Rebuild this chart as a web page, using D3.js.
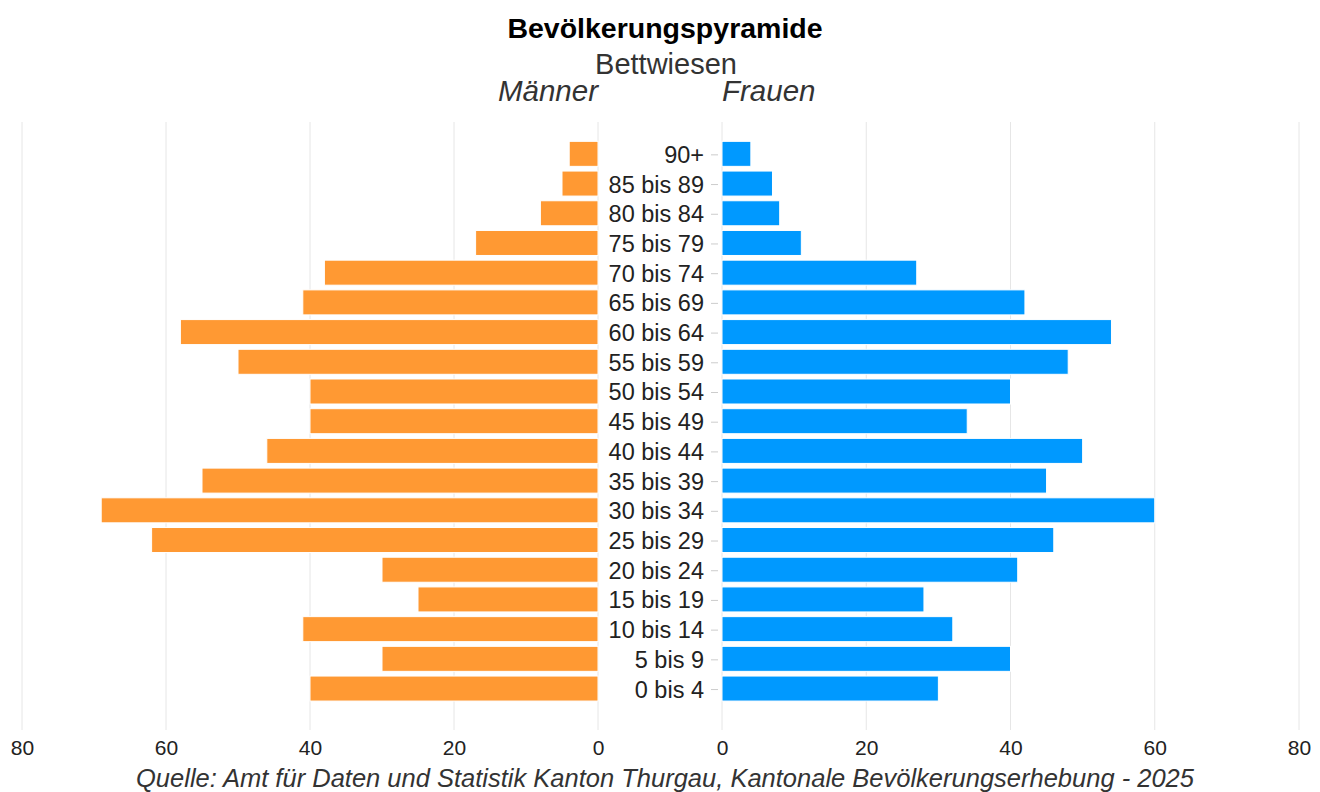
<!DOCTYPE html>
<html><head><meta charset="utf-8">
<script src="https://cdn.jsdelivr.net/npm/d3@7"></script>
<style>
html,body{margin:0;padding:0;background:#fff;}
svg{display:block;font-family:"Liberation Sans",Arial,sans-serif;}
</style></head>
<body>
<svg id="c" width="1320" height="792"></svg>
<script>
const categories = ["90+","85 bis 89","80 bis 84","75 bis 79","70 bis 74","65 bis 69","60 bis 64","55 bis 59","50 bis 54","45 bis 49","40 bis 44","35 bis 39","30 bis 34","25 bis 29","20 bis 24","15 bis 19","10 bis 14","5 bis 9","0 bis 4"];
const maenner = [4,5,8,17,38,41,58,50,40,40,46,55,69,62,30,25,41,30,40];
const frauen  = [4,7,8,11,27,42,54,48,40,34,50,45,60,46,41,28,32,40,30];
const tickValues = [0,20,40,60,80];
const title = "Bevölkerungspyramide";
const subtitle = "Bettwiesen";
const labelMaenner = "Männer";
const labelFrauen = "Frauen";
const source = "Quelle: Amt für Daten und Statistik Kanton Thurgau, Kantonale Bevölkerungserhebung - 2025";

const svg = d3.select("#c");
const xL = d3.scaleLinear().domain([0,80]).range([598,22]);
const xR = d3.scaleLinear().domain([0,80]).range([722,1299]);
const y = d3.scaleBand().domain(categories).range([139,703.4]).paddingInner(0.158).paddingOuter(0.079);
const gridTop = 122, gridBottom = 730;

// gridlines
[xL, xR].forEach(sc => {
  svg.append("g").selectAll("line").data(tickValues).join("line")
    .attr("x1", d => sc(d)).attr("x2", d => sc(d))
    .attr("y1", gridTop).attr("y2", gridBottom)
    .attr("stroke", "#e6e6e6").attr("stroke-width", 1);
});

// bars
svg.append("g").selectAll("rect").data(maenner).join("rect")
  .attr("x", d => xL(d)).attr("width", d => xL(0) - xL(d))
  .attr("y", (d,i) => y(categories[i])).attr("height", y.bandwidth())
  .attr("fill", "#ff9933").attr("stroke", "#fff").attr("stroke-width", 1);
svg.append("g").selectAll("rect").data(frauen).join("rect")
  .attr("x", xR(0)).attr("width", d => xR(d) - xR(0))
  .attr("y", (d,i) => y(categories[i])).attr("height", y.bandwidth())
  .attr("fill", "#0099ff").attr("stroke", "#fff").attr("stroke-width", 1);

// category axis
const catAxis = d3.axisLeft(y).tickSize(7).tickPadding(7);
const ca = svg.append("g").attr("transform", "translate(718,1)").call(catAxis);
ca.select(".domain").remove();
ca.selectAll(".tick line").attr("stroke", "#cccccc");
ca.selectAll(".tick text").attr("fill", "#222").style("font-size", "23.5px")
  .style("font-family", '"Liberation Sans",Arial,sans-serif').attr("dy", "0.34em");

// value axes
[xL, xR].forEach(sc => {
  const ax = svg.append("g").attr("transform", `translate(0,${gridBottom})`)
    .call(d3.axisBottom(sc).tickValues(tickValues).tickSize(0).tickPadding(10));
  ax.select(".domain").remove();
  ax.selectAll(".tick text").attr("fill", "#222").style("font-size", "21px")
    .style("font-family", '"Liberation Sans",Arial,sans-serif');
});

// titles
svg.append("text").attr("x", 665).attr("y", 38).attr("text-anchor", "middle")
  .style("font-size", "28.5px").style("font-weight", "bold").attr("fill", "#000").text(title);
svg.append("text").attr("x", 666).attr("y", 74).attr("text-anchor", "middle")
  .style("font-size", "29px").attr("fill", "#333").text(subtitle);
svg.append("text").attr("x", 598).attr("y", 101).attr("text-anchor", "end")
  .style("font-size", "29.5px").style("font-style", "italic").attr("fill", "#333").text(labelMaenner);
svg.append("text").attr("x", 722).attr("y", 101).attr("text-anchor", "start")
  .style("font-size", "29.5px").style("font-style", "italic").attr("fill", "#333").text(labelFrauen);
svg.append("text").attr("x", 665).attr("y", 787).attr("text-anchor", "middle")
  .style("font-size", "25.5px").style("font-style", "italic").attr("fill", "#333").text(source);
</script>
</body></html>
